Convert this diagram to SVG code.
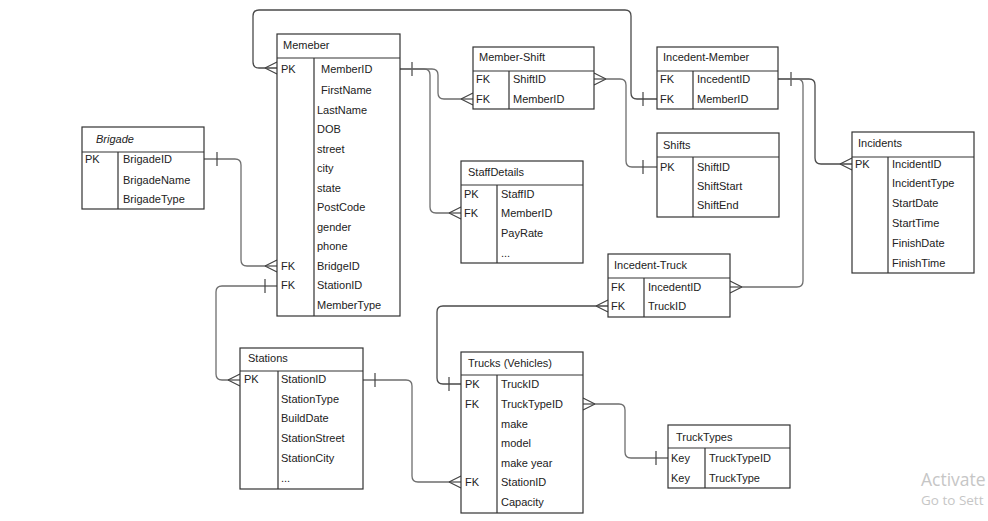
<svg xmlns="http://www.w3.org/2000/svg" width="988" height="521" viewBox="0 0 988 521">
<style>
.box{fill:#fff;stroke:#333;stroke-width:1.2}
.ln{fill:none;stroke:#333;stroke-width:1.2}
.t{font-family:"Liberation Sans",Arial,sans-serif;font-size:11px;fill:#222}
.ti{font-family:"Liberation Sans",Arial,sans-serif;font-size:11px;fill:#222;font-style:italic}
.c{fill:none;stroke:#6e6e6e;stroke-width:1.3}
.cd{fill:none;stroke:#4a4a4a;stroke-width:1.3}
.m{fill:none;stroke:#444;stroke-width:1.2}
.wm{font-family:"Open Sans","Liberation Sans",sans-serif;fill:#c6c6c6}
</style>
<rect width="988" height="521" fill="#fff"/>
<g id="connectors">
  <!-- Member PK loop to Incedent-Member MemberID -->
  <path class="cd" d="M277 68 H259 Q253 68 253 62 V16 Q253 10 259 10 H625 Q631 10 631 16 V93 Q631 99 637 99 H657"/>
  <path class="m" d="M265 68 L277 62 M265 68 L277 74 M643 92 V106"/>
  <!-- Member MemberID to StaffDetails -->
  <path class="c" d="M400 69 H424 Q430 69 430 75 V207 Q430 213 436 213 H461"/>
  <path class="m" d="M412 62 V76 M449 213 L461 207 M449 213 L461 219"/>
  <!-- Member MemberID to Member-Shift -->
  <path class="c" d="M400 69 H432 Q438 69 438 75 V93 Q438 99 444 99 H473"/>
  <path class="m" d="M461 99 L473 93 M461 99 L473 105"/>
  <!-- Member-Shift ShiftID to Shifts -->
  <path class="c" d="M594 79 H620 Q626 79 626 85 V161 Q626 167 632 167 H657"/>
  <path class="m" d="M606 79 L594 73 M606 79 L594 85 M643 160 V174"/>
  <!-- Incedent-Member IncedentID to Incidents -->
  <path class="cd" d="M778 79 H809 Q815 79 815 85 V158 Q815 164 821 164 H852"/>
  <path class="m" d="M791 72 V86 M840 164 L852 158 M840 164 L852 170"/>
  <!-- Incedent-Member IncedentID to Incedent-Truck -->
  <path class="c" d="M778 79 H797 Q803 79 803 85 V281 Q803 287 797 287 H730"/>
  <path class="m" d="M742 287 L730 281 M742 287 L730 293"/>
  <!-- Incedent-Truck TruckID to Trucks PK -->
  <path class="cd" d="M608 306 H443 Q437 306 437 312 V378 Q437 384 443 384 H461"/>
  <path class="m" d="M596 306 L608 300 M596 306 L608 312 M449 377 V391"/>
  <!-- Brigade to Member BridgeID -->
  <path class="c" d="M204 159 H235 Q241 159 241 165 V260 Q241 266 247 266 H277"/>
  <path class="m" d="M217 152 V166 M265 266 L277 260 M265 266 L277 272"/>
  <!-- Member StationID to Stations -->
  <path class="c" d="M277 286 H222 Q216 286 216 292 V374 Q216 380 222 380 H240"/>
  <path class="m" d="M265 279 V293 M228 380 L240 374 M228 380 L240 386"/>
  <!-- Stations to Trucks StationID -->
  <path class="c" d="M363 380 H406 Q412 380 412 386 V476 Q412 482 418 482 H461"/>
  <path class="m" d="M375 373 V387 M449 482 L461 476 M449 482 L461 488"/>
  <!-- Trucks TruckTypeID to TruckTypes -->
  <path class="c" d="M583 404 H619 Q625 404 625 410 V452 Q625 458 631 458 H668"/>
  <path class="m" d="M595 404 L583 398 M595 404 L583 410 M656 451 V465"/>
</g>
<g id="brigade">
  <rect class="box" x="82" y="127" width="122" height="82"/>
  <path class="ln" d="M82 152 H204 M118 152 V209"/>
  <text class="ti" x="96" y="143">Brigade</text>
  <text class="t" x="85" y="163">PK</text>
  <text class="t" x="123" y="163">BrigadeID</text>
  <text class="t" x="123" y="184">BrigadeName</text>
  <text class="t" x="123" y="203">BrigadeType</text>
</g>
<g id="memeber">
  <rect class="box" x="277" y="34" width="123" height="282"/>
  <path class="ln" d="M277 58 H400 M314 58 V316"/>
  <text class="t" x="283" y="49">Memeber</text>
  <text class="t" x="281" y="73">PK</text>
  <text class="t" x="321" y="73">MemberID</text>
  <text class="t" x="321" y="94">FirstName</text>
  <text class="t" x="317" y="114">LastName</text>
  <text class="t" x="317" y="133">DOB</text>
  <text class="t" x="317" y="153">street</text>
  <text class="t" x="317" y="172">city</text>
  <text class="t" x="317" y="192">state</text>
  <text class="t" x="317" y="211">PostCode</text>
  <text class="t" x="317" y="231">gender</text>
  <text class="t" x="317" y="250">phone</text>
  <text class="t" x="281" y="270">FK</text>
  <text class="t" x="317" y="270">BridgeID</text>
  <text class="t" x="281" y="289">FK</text>
  <text class="t" x="317" y="289">StationID</text>
  <text class="t" x="317" y="309">MemberType</text>
</g>
<g id="member-shift">
  <rect class="box" x="473" y="47" width="121" height="62"/>
  <path class="ln" d="M473 71 H594 M509 71 V109"/>
  <text class="t" x="479" y="61">Member-Shift</text>
  <text class="t" x="476" y="83">FK</text>
  <text class="t" x="513" y="83">ShiftID</text>
  <text class="t" x="476" y="103">FK</text>
  <text class="t" x="513" y="103">MemberID</text>
</g>
<g id="incedent-member">
  <rect class="box" x="657" y="47" width="121" height="62"/>
  <path class="ln" d="M657 71 H778 M693 71 V109"/>
  <text class="t" x="663" y="61">Incedent-Member</text>
  <text class="t" x="660" y="83">FK</text>
  <text class="t" x="697" y="83">IncedentID</text>
  <text class="t" x="660" y="103">FK</text>
  <text class="t" x="697" y="103">MemberID</text>
</g>
<g id="shifts">
  <rect class="box" x="657" y="133" width="122" height="84"/>
  <path class="ln" d="M657 157 H779 M693 157 V217"/>
  <text class="t" x="663" y="149">Shifts</text>
  <text class="t" x="660" y="171">PK</text>
  <text class="t" x="697" y="171">ShiftID</text>
  <text class="t" x="697" y="190">ShiftStart</text>
  <text class="t" x="697" y="209">ShiftEnd</text>
</g>
<g id="incidents">
  <rect class="box" x="852" y="132" width="122" height="141"/>
  <path class="ln" d="M852 157 H974 M888 157 V273"/>
  <text class="t" x="858" y="147">Incidents</text>
  <text class="t" x="855" y="168">PK</text>
  <text class="t" x="892" y="168">IncidentID</text>
  <text class="t" x="892" y="187">IncidentType</text>
  <text class="t" x="892" y="207">StartDate</text>
  <text class="t" x="892" y="227">StartTime</text>
  <text class="t" x="892" y="247">FinishDate</text>
  <text class="t" x="892" y="267">FinishTime</text>
</g>
<g id="staffdetails">
  <rect class="box" x="461" y="161" width="122" height="102"/>
  <path class="ln" d="M461 185 H583 M497 185 V263"/>
  <text class="t" x="468" y="176">StaffDetails</text>
  <text class="t" x="464" y="198">PK</text>
  <text class="t" x="501" y="198">StaffID</text>
  <text class="t" x="464" y="217">FK</text>
  <text class="t" x="501" y="217">MemberID</text>
  <text class="t" x="501" y="237">PayRate</text>
  <text class="t" x="501" y="257">...</text>
</g>
<g id="incedent-truck">
  <rect class="box" x="608" y="254" width="122" height="63"/>
  <path class="ln" d="M608 278 H730 M644 278 V317"/>
  <text class="t" x="614" y="269">Incedent-Truck</text>
  <text class="t" x="611" y="291">FK</text>
  <text class="t" x="648" y="291">IncedentID</text>
  <text class="t" x="611" y="310">FK</text>
  <text class="t" x="648" y="310">TruckID</text>
</g>
<g id="stations">
  <rect class="box" x="240" y="348" width="123" height="141"/>
  <path class="ln" d="M240 371 H363 M278 371 V489"/>
  <text class="t" x="248" y="362">Stations</text>
  <text class="t" x="244" y="383">PK</text>
  <text class="t" x="281" y="383">StationID</text>
  <text class="t" x="281" y="403">StationType</text>
  <text class="t" x="281" y="422">BuildDate</text>
  <text class="t" x="281" y="442">StationStreet</text>
  <text class="t" x="281" y="462">StationCity</text>
  <text class="t" x="281" y="482">...</text>
</g>
<g id="trucks">
  <rect class="box" x="461" y="352" width="122" height="161"/>
  <path class="ln" d="M461 375 H583 M497 375 V513"/>
  <text class="t" x="468" y="367">Trucks (Vehicles)</text>
  <text class="t" x="465" y="388">PK</text>
  <text class="t" x="501" y="388">TruckID</text>
  <text class="t" x="465" y="408">FK</text>
  <text class="t" x="501" y="408">TruckTypeID</text>
  <text class="t" x="501" y="428">make</text>
  <text class="t" x="501" y="447">model</text>
  <text class="t" x="501" y="467">make year</text>
  <text class="t" x="465" y="486">FK</text>
  <text class="t" x="501" y="486">StationID</text>
  <text class="t" x="501" y="506">Capacity</text>
</g>
<g id="trucktypes">
  <rect class="box" x="668" y="425" width="122" height="63"/>
  <path class="ln" d="M668 448 H790 M705 448 V488"/>
  <text class="t" x="676" y="441">TruckTypes</text>
  <text class="t" x="671" y="462">Key</text>
  <text class="t" x="709" y="462">TruckTypeID</text>
  <text class="t" x="671" y="482">Key</text>
  <text class="t" x="709" y="482">TruckType</text>
</g>
<text class="wm" x="921" y="486" font-size="17.5">Activate</text>
<text class="wm" x="921" y="505" font-size="13.5">Go to Sett</text>
</svg>
